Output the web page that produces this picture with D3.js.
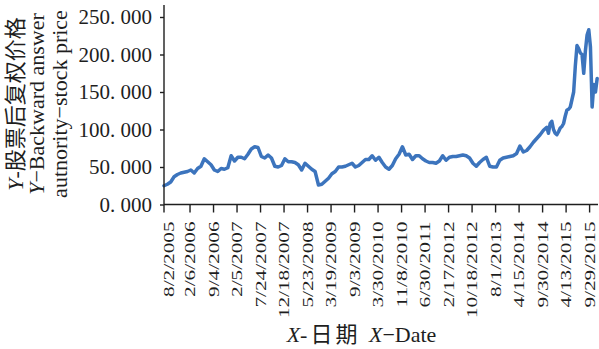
<!DOCTYPE html>
<html>
<head>
<meta charset="utf-8">
<script src="https://cdn.jsdelivr.net/npm/d3@7"></script>
<style>
  html, body { margin: 0; padding: 0; background: #fff; }
  svg { display: block; }
  text { font-family: "Liberation Serif", "Times New Roman", "Noto Sans CJK SC", serif; fill: #1e1e1e; }
</style>
</head>
<body>
<svg id="chart" width="599" height="349"></svg>
<script>
// Trading-session index of each sample (counted from the first session)
const sessionIndex = [
  0, 20, 40, 60, 80, 100, 120, 140, 160, 180, 200, 220, 240, 260, 280, 300, 320, 340, 360, 380,
  400, 420, 440, 460, 480, 500, 520, 540, 560, 580, 600, 620, 640, 660, 680, 700, 720, 740, 760, 780,
  800, 820, 840, 860, 880, 900, 920, 940, 960, 980, 1000, 1020, 1040, 1060, 1080, 1100, 1120, 1140, 1160, 1180,
  1200, 1220, 1240, 1260, 1280, 1300, 1320, 1340, 1360, 1380, 1400, 1420, 1440, 1460, 1480, 1500, 1520, 1540, 1560, 1580,
  1600, 1620, 1640, 1660, 1680, 1700, 1720, 1740, 1760, 1780, 1800, 1820, 1840, 1860, 1880, 1900, 1920, 1940, 1960, 1980,
  2000, 2020, 2040, 2060, 2080, 2100, 2120, 2140, 2160, 2180, 2200, 2220, 2240, 2260, 2280,
  2290, 2300, 2310, 2320, 2330, 2340, 2350, 2360, 2370, 2380, 2390, 2400, 2410, 2420, 2430, 2440,
  2450, 2460, 2470, 2480, 2490, 2500, 2510, 2520, 2530, 2540, 2550, 2560, 2570, 2580
];

// Backward-adjusted stock price at each sample
const adjClose = [
  25, 27, 30, 37, 40, 42, 43, 44, 46, 42, 48, 51, 61, 57, 53, 46, 44, 48, 47, 49,
  65, 58, 63, 63, 61, 67, 74, 77, 76, 64, 62, 66, 62, 51, 50, 52, 61, 57, 57, 56,
  53, 46, 55, 51, 47, 44, 26, 27, 31, 35, 41, 44, 50, 50, 51, 53, 55, 50, 52, 56,
  60, 60, 65, 59, 63, 56, 50, 47, 52, 61, 67, 77, 66, 67, 60, 65, 65, 61, 58, 56,
  56, 55, 58, 65, 59, 63, 64, 64, 65, 66, 65, 62, 55, 51, 56, 60, 63, 51, 50, 50,
  59, 62, 63, 64, 65, 68, 78, 70, 72, 77, 83, 88, 93, 99, 103,
  95, 108, 111, 100, 95, 93, 97, 102, 104, 108, 118, 126, 127, 130, 140, 150,
  185, 212, 208, 202, 200, 175, 205, 226, 233, 210, 130, 160, 150, 168
];

// Date labels on the horizontal axis and the session each one falls on
const dateLabels = [
  "8/2/2005", "2/6/2006", "9/4/2006", "2/5/2007", "7/24/2007", "12/18/2007",
  "5/23/2008", "3/19/2009", "9/3/2009", "3/30/2010", "11/8/2010", "6/30/2011",
  "2/17/2012", "10/18/2012", "8/1/2013", "4/15/2014", "9/30/2014", "4/13/2015", "9/29/2015"
];
const dateLabelSession = [
  0, 155, 295, 435, 575, 715, 855, 995, 1135, 1275,
  1415, 1555, 1695, 1835, 1975, 2115, 2255, 2395, 2535
];

const priceTicks = [0, 50, 100, 150, 200, 250];

const svg = d3.select("#chart");
const x0 = 164, x1 = 598, yBase = 204.5, yTop = 17;

const x = d3.scaleLinear().domain([0, 2585]).range([x0, x1]);
const y = d3.scaleLinear().domain([0, 250]).range([yBase, yTop]);

// price line
const series = sessionIndex.map((s, i) => [s, adjClose[i]]);
svg.append("path")
  .datum(series)
  .attr("fill", "none")
  .attr("stroke", "#3c74bd")
  .attr("stroke-width", 3.5)
  .attr("stroke-linejoin", "round")
  .attr("stroke-linecap", "round")
  .attr("d", d3.line().x(d => x(d[0])).y(d => y(d[1])));

// vertical axis
const fmt = d3.format(".3f");
const yAxis = svg.append("g")
  .attr("transform", `translate(${x0},0)`)
  .call(d3.axisLeft(y)
    .tickValues(priceTicks)
    .tickSize(4)
    .tickPadding(8)
    .tickFormat(d => fmt(d).replace(".", ". ")));
yAxis.select(".domain").remove();
yAxis.selectAll(".tick line").attr("stroke", "#1e1e1e").attr("stroke-width", 1.4);
yAxis.selectAll(".tick text")
  .attr("font-family", "Liberation Serif, serif")
  .attr("font-size", 21)
  .attr("fill", "#1e1e1e");

svg.append("line")
  .attr("x1", x0).attr("x2", x0)
  .attr("y1", 5).attr("y2", yBase)
  .attr("stroke", "#1e1e1e").attr("stroke-width", 1.4);

// horizontal axis
svg.append("line")
  .attr("x1", x0).attr("x2", x1)
  .attr("y1", yBase).attr("y2", yBase)
  .attr("stroke", "#1e1e1e").attr("stroke-width", 1.4);

const xt = svg.append("g").selectAll("g")
  .data(dateLabels.map((label, i) => ({ label, s: dateLabelSession[i] })))
  .join("g");

xt.append("line")
  .attr("x1", d => x(d.s)).attr("x2", d => x(d.s))
  .attr("y1", yBase).attr("y2", yBase + 8)
  .attr("stroke", "#1e1e1e").attr("stroke-width", 1.4);

// rotated date labels, set in a wide-set serif
const digitAdvance = 10.6, slashAdvance = 5.9;
const labelLength = s => [...s].reduce((w, c) => w + (c === "/" ? slashAdvance : digitAdvance), 0);
xt.append("text")
  .attr("transform", d => `translate(${Math.max(x(d.s), x0 + 4.5)},${yBase + 17}) rotate(-90) scale(1,0.7)`)
  .attr("text-anchor", "end")
  .attr("dy", "0.34em")
  .attr("font-family", "Liberation Serif, serif")
  .attr("font-size", 21)
  .attr("textLength", d => labelLength(d.label))
  .attr("lengthAdjust", "spacingAndGlyphs")
  .text(d => d.label);

// vertical axis title (three lines)
const yTitle = [
  { bx: 23, parts: [["Y", true], ["-股票后复权价格", false]] },
  { bx: 43.5, parts: [["Y", true], ["\u2212Backward answer", false]] },
  { bx: 67, parts: [["autnority\u2212stock price", false]] }
];
yTitle.forEach(line => {
  const t = svg.append("text")
    .attr("transform", `translate(${line.bx},104) rotate(-90)`)
    .attr("text-anchor", "middle")
    .attr("font-size", 22);
  line.parts.forEach(([str, it]) => {
    t.append("tspan").attr("font-style", it ? "italic" : "normal").text(str);
  });
});

// horizontal axis title
const xTitle = svg.append("text")
  .attr("x", 361.5).attr("y", 341.5)
  .attr("text-anchor", "middle")
  .attr("font-size", 22);
[["X", true, 0], ["-日期 ", false, 3], ["X", true, 0], ["\u2212Date", false, 0]].forEach(([str, it, ls]) => {
  xTitle.append("tspan")
    .attr("font-style", it ? "italic" : "normal")
    .attr("letter-spacing", ls)
    .text(str);
});
</script>
</body>
</html>
